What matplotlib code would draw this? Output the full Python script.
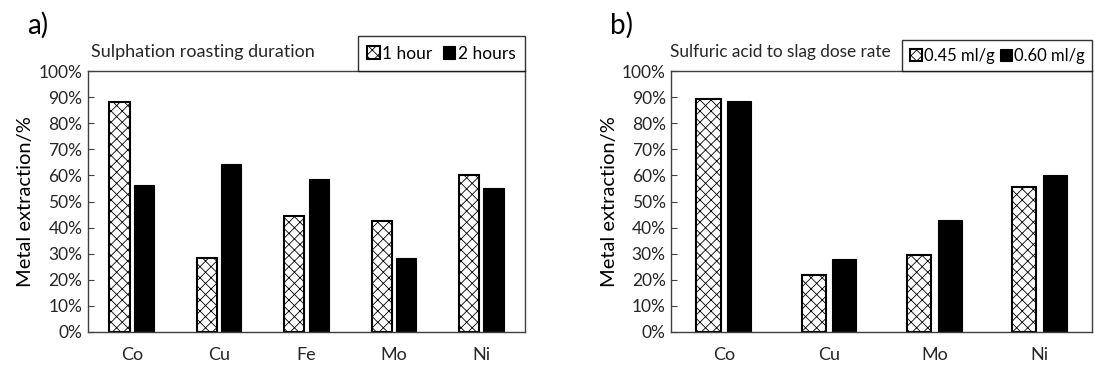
import matplotlib
matplotlib.use("Agg")
import matplotlib.pyplot as plt
import numpy as np

plt.rcParams['font.family'] = ['Lato', 'DejaVu Sans']
plt.rcParams['hatch.linewidth'] = 0.6

# panel a) sulphation roasting duration
metals_a = ["Co", "Cu", "Fe", "Mo", "Ni"]
hour1 = [88.3, 28.3, 44.6, 42.6, 60.3]
hour2 = [56.5, 64.5, 58.8, 28.5, 55.3]

# panel b) sulfuric acid to slag dose rate
metals_b = ["Co", "Cu", "Mo", "Ni"]
dose045 = [89.2, 21.7, 29.5, 55.4]
dose060 = [88.6, 28.1, 43.0, 60.3]

fig = plt.figure(figsize=(10.95, 3.67), dpi=100)
ax1 = fig.add_axes([0.0804, 0.0954, 0.399, 0.711])
ax2 = fig.add_axes([0.613, 0.0954, 0.3845, 0.711])

spine_col = "#404040"
txt_col = "#262626"


def panel(ax, cats, s1, s2, lab1, lab2, w, gap, title, tag, tx, tagx,
          titlefs, legfs, legpad, colsp):
    x = np.arange(len(cats))
    off = (w + gap) / 2
    ax.bar(x - off, s1, width=w, facecolor="white", edgecolor="black",
           hatch="xxx", linewidth=1.5, label=lab1)
    ax.bar(x + off, s2, width=w, color="black", edgecolor="black",
           linewidth=0.8, label=lab2)
    ax.set_xlim(-0.5, len(cats) - 0.5)
    ax.set_ylim(0, 100)
    ax.set_yticks(np.arange(0, 101, 10))
    ax.set_yticklabels([str(v) + "%" for v in range(0, 101, 10)])
    ax.set_xticks(x)
    ax.set_xticklabels(cats)
    ax.tick_params(axis="y", direction="in", length=4, color=spine_col,
                   labelsize=12.5, labelcolor=txt_col, pad=4)
    ax.tick_params(axis="x", length=0, labelsize=13, labelcolor=txt_col, pad=11)
    for s in ax.spines.values():
        s.set_color(spine_col)
        s.set_linewidth(1)
    ax.set_ylabel("Metal extraction/%", fontsize=14.5, color="black", labelpad=3)
    leg = ax.legend(loc="lower right", bbox_to_anchor=(1.0, 1.0), borderaxespad=0,
                    ncol=2, fontsize=legfs, frameon=True, fancybox=False,
                    handlelength=0.7, handleheight=0.7, handletextpad=0.15,
                    columnspacing=colsp, borderpad=legpad)
    leg.get_frame().set_edgecolor("black")
    leg.get_frame().set_linewidth(1)
    fig.text(tx, 0.858, title, fontsize=titlefs, color=txt_col, va="center", ha="left")
    fig.text(tagx, 0.93, tag, fontsize=20, va="center", ha="left")


panel(ax1, metals_a, hour1, hour2, "1 hour", "2 hours", 0.23, 0.05,
      "Sulphation roasting duration", "a)", 91 / 1095, 27 / 1095,
      13, 12.5, 0.55, 0.6)
panel(ax2, metals_b, dose045, dose060, "0.45 ml/g", "0.60 ml/g", 0.23, 0.06,
      "Sulfuric acid to slag dose rate", "b)", 670 / 1095, 610 / 1095,
      12.4, 12, 0.45, 0.3)

fig.savefig("out.png", dpi=100)
